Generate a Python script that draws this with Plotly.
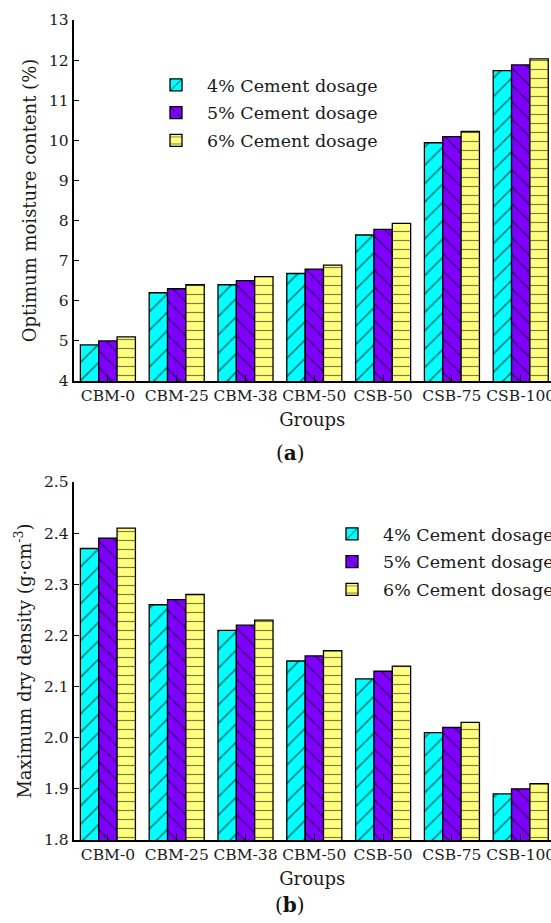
import plotly.graph_objects as go

groups = ["CBM-0", "CBM-25", "CBM-38", "CBM-50", "CSB-50", "CSB-75", "CSB-100"]
series_names = ["4% Cement dosage", "5% Cement dosage", "6% Cement dosage"]

moisture_4 = [4.9, 6.2, 6.4, 6.68, 7.64, 9.94, 11.74]
moisture_5 = [5.0, 6.3, 6.5, 6.79, 7.78, 10.09, 11.88]
moisture_6 = [5.1, 6.4, 6.6, 6.89, 7.93, 10.22, 12.03]

density_4 = [2.37, 2.26, 2.21, 2.15, 2.115, 2.01, 1.89]
density_5 = [2.39, 2.27, 2.22, 2.16, 2.13, 2.02, 1.90]
density_6 = [2.41, 2.28, 2.23, 2.17, 2.14, 2.03, 1.91]

colors = ["#00FFFF", "#7F00FF", "#FFFF80"]
shapes = ["/", "\\", "-"]
psizes = [13, 12, 9]

FONT = "DejaVu Serif"
W, H = 551, 923

fig = go.Figure()

top = [moisture_4, moisture_5, moisture_6]
bot = [density_4, density_5, density_6]

for i in range(3):
    fig.add_trace(go.Bar(
        x=groups, y=top[i], name=series_names[i], legendgroup="a%d" % i,
        marker=dict(color=colors[i], line=dict(color="black", width=1.3),
                    pattern=dict(shape=shapes[i], fgcolor="black", size=psizes[i],
                                 solidity=0.13, fillmode="overlay")),
        xaxis="x", yaxis="y", legend="legend",
    ))
for i in range(3):
    fig.add_trace(go.Bar(
        x=groups, y=bot[i], name=series_names[i], legendgroup="b%d" % i,
        marker=dict(color=colors[i], line=dict(color="black", width=1.3),
                    pattern=dict(shape=shapes[i], fgcolor="black", size=psizes[i],
                                 solidity=0.13, fillmode="overlay")),
        xaxis="x2", yaxis="y2", legend="legend2",
    ))

xdom = [73.5 / W, 1.0]
common_x = dict(
    domain=xdom, range=[-0.5, 6.44], showline=True, linecolor="black", linewidth=1.5,
    ticks="inside", ticklen=6, tickwidth=1.3, tickcolor="black",
    tickfont=dict(family=FONT, size=15.5, color="#1a1a1a"),
    title=dict(text="Groups", font=dict(family=FONT, size=18, color="#1a1a1a"), standoff=9),
    showgrid=False, zeroline=False, automargin=False,
)
common_y = dict(
    showline=True, linecolor="black", linewidth=1.5,
    ticks="inside", ticklen=6, tickwidth=1.3, tickcolor="black",
    tickfont=dict(family=FONT, size=15.5, color="#1a1a1a"),
    showgrid=False, zeroline=False, automargin=False,
)

fig.update_layout(
    width=W, height=H,
    margin=dict(l=0, r=0, t=0, b=0, autoexpand=False),
    paper_bgcolor="white", plot_bgcolor="white",
    barmode="group", bargap=0.2, bargroupgap=0,
    font=dict(family=FONT, color="#1a1a1a"),
    xaxis=dict(common_x, anchor="y"),
    yaxis=dict(common_y, anchor="x", domain=[1 - 381 / H, 1 - 20 / H], range=[4, 13], dtick=1,
               title=dict(text="Optimum moisture content (%)",
                          font=dict(family=FONT, size=18, color="#1a1a1a"), standoff=8)),
    xaxis2=dict(common_x, anchor="y2"),
    yaxis2=dict(common_y, anchor="x2", domain=[1 - 840 / H, 1 - 482 / H], range=[1.8, 2.5], dtick=0.1,
                tickformat=".1f",
                title=dict(text="Maximum dry density (g·cm<sup>-3</sup>)",
                           font=dict(family=FONT, size=18, color="#1a1a1a"), standoff=8)),
    legend=dict(x=145 / W, y=1 - 67 / H, xanchor="left", yanchor="top",
                font=dict(family=FONT, size=17.5, color="#1a1a1a"), itemwidth=52,
                bgcolor="rgba(0,0,0,0)", tracegroupgap=2),
    legend2=dict(x=321 / W, y=1 - 516 / H, xanchor="left", yanchor="top",
                 font=dict(family=FONT, size=17.5, color="#1a1a1a"), itemwidth=52,
                 bgcolor="rgba(0,0,0,0)", tracegroupgap=2),
    annotations=[
        dict(text="(<b>a</b>)", x=290 / W, y=1 - 453 / H, xref="paper", yref="paper",
             xanchor="center", yanchor="middle",
             showarrow=False, font=dict(family=FONT, size=20, color="#111")),
        dict(text="(<b>b</b>)", x=290 / W, y=1 - 905 / H, xref="paper", yref="paper",
             xanchor="center", yanchor="middle",
             showarrow=False, font=dict(family=FONT, size=20, color="#111")),
    ],
)

fig.write_html("out.html", config={"displayModeBar": False},
               post_script="document.body.style.margin='0px';")
